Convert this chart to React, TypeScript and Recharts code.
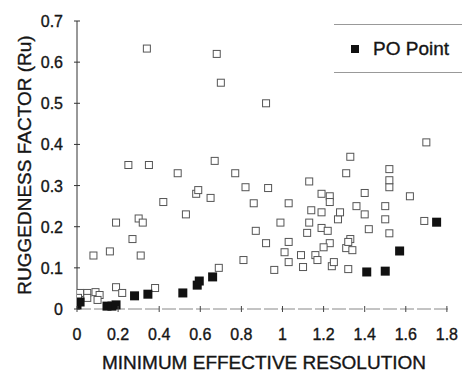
import { Label, Legend, Scatter, ScatterChart, XAxis, YAxis } from "recharts";

// open squares (all other points)
const openX = [
  0.34, 0.68, 0.7, 0.92, 0.25, 0.35, 0.49, 0.67, 0.77, 1.7, 1.33, 1.52, 1.13, 1.31,
  0.58, 0.42, 0.53, 0.19, 0.3, 0.32, 0.27, 0.08, 0.16, 0.31, 0.19, 0.22, 0.38, 0.015,
  0.05, 0.09, 0.11, 0.05, 0.1, 0.005, 1.19, 1.14, 1.13, 1.12, 1.19, 1.19, 0.99, 0.87,
  0.92, 1.03, 1.01, 1.09, 1.16, 1.17, 1.03, 1.1, 0.96, 0.81, 0.69, 0.82, 0.93, 0.86,
  1.03, 0.59, 0.65, 1.23, 1.4, 1.4, 1.27, 1.5, 1.5, 1.42, 1.52, 1.69, 1.62, 1.33,
  1.31, 1.32, 1.24, 1.23, 1.52, 1.36, 1.28, 1.22, 1.32, 1.23, 1.2, 1.34, 1.25, 1.52,
];
const openY = [
  0.633, 0.62, 0.55, 0.5, 0.35, 0.35, 0.33, 0.36, 0.33, 0.405, 0.37, 0.34, 0.31, 0.33,
  0.28, 0.26, 0.23, 0.21, 0.22, 0.21, 0.17, 0.13, 0.14, 0.13, 0.053, 0.039, 0.051, 0.039,
  0.039, 0.041, 0.034, 0.027, 0.022, 0.027, 0.28, 0.24, 0.21, 0.185, 0.235, 0.197, 0.21, 0.19,
  0.16, 0.163, 0.138, 0.131, 0.131, 0.119, 0.114, 0.102, 0.095, 0.119, 0.1, 0.296, 0.294, 0.257,
  0.257, 0.289, 0.27, 0.274, 0.282, 0.23, 0.218, 0.25, 0.218, 0.194, 0.184, 0.214, 0.274, 0.17,
  0.148, 0.097, 0.104, 0.26, 0.296, 0.25, 0.235, 0.19, 0.163, 0.16, 0.15, 0.143, 0.114, 0.313,
];

// PO points (filled)
const poX = [0.0, 0.015, 0.146, 0.17, 0.19, 0.28, 0.345, 0.515, 0.585, 0.595, 0.66, 1.41, 1.5, 1.57, 1.75];
const poY = [0.01, 0.017, 0.007, 0.007, 0.01, 0.032, 0.036, 0.039, 0.058, 0.068, 0.078, 0.09, 0.092, 0.141, 0.211];

const xTicks = [0, 0.2, 0.4, 0.6, 0.8, 1, 1.2, 1.4, 1.6, 1.8];
const yTicks = [0, 0.1, 0.2, 0.3, 0.4, 0.5, 0.6, 0.7];

const openData = openX.map((x, i) => ({ x, y: openY[i] }));
const poData = poX.map((x, i) => ({ x, y: poY[i] }));

const FONT = "'Liberation Sans', Arial, sans-serif";
const INK = "#151515";

function OpenSquare({ cx, cy }: { cx?: number; cy?: number }) {
  if (cx == null || cy == null) return null;
  return <rect x={cx - 3.5} y={cy - 3.5} width={7} height={7} fill="#fff" stroke="#555" strokeWidth={1} />;
}

function FilledSquare({ cx, cy }: { cx?: number; cy?: number }) {
  if (cx == null || cy == null) return null;
  return <rect x={cx - 4.5} y={cy - 4.5} width={9} height={9} fill="#111" />;
}

function YTick({ x, y, payload }: { x?: number; y?: number; payload?: { value: number } }) {
  if (x == null || y == null || !payload) return null;
  return (
    <g>
      <line x1={x - 3} x2={x + 3} y1={y} y2={y} stroke="#333" />
      <text
        x={x - 14}
        y={y + 6}
        textAnchor="end"
        fontSize={16}
        fill={INK}
        stroke={INK}
        strokeWidth={0.35}
        fontFamily={FONT}
      >
        {String(payload.value)}
      </text>
    </g>
  );
}

function XTick({ x, y, payload }: { x?: number; y?: number; payload?: { value: number } }) {
  if (x == null || y == null || !payload) return null;
  return (
    <g>
      <line x1={x} x2={x} y1={y - 3} y2={y + 3} stroke="#444" />
      <text
        x={x}
        y={y + 31}
        textAnchor="middle"
        fontSize={16}
        fill={INK}
        stroke={INK}
        strokeWidth={0.35}
        fontFamily={FONT}
      >
        {String(payload.value)}
      </text>
    </g>
  );
}

function YTitle(props: any) {
  const vb = props.viewBox || { x: 17, y: 21, width: 60, height: 288 };
  const cx = vb.x + 14;
  const cy = vb.y + vb.height / 2;
  return (
    <text
      x={cx}
      y={cy}
      transform={`rotate(-90, ${cx}, ${cy})`}
      textAnchor="middle"
      fontSize={19}
      fill={INK}
      stroke={INK}
      strokeWidth={0.35}
      fontFamily={FONT}
    >
      RUGGEDNESS FACTOR  (Ru)
    </text>
  );
}

function LegendBox({ payload }: { payload?: { value: string }[] }) {
  const items = (payload || []).filter((p) => p.value === "PO Point");
  return (
    <div
      style={{
        borderTop: "1px solid #999",
        borderBottom: "1px solid #999",
        height: 49,
        display: "flex",
        alignItems: "center",
        boxSizing: "border-box",
      }}
    >
      {items.map((p) => (
        <div key={p.value} style={{ display: "flex", alignItems: "center", marginLeft: 17 }}>
          <span style={{ width: 8, height: 8, background: "#111", display: "inline-block" }} />
          <span
            style={{
              marginLeft: 14,
              fontSize: 19,
              fontFamily: FONT,
              color: INK,
              WebkitTextStroke: "0.35px #151515",
            }}
          >
            {p.value}
          </span>
        </div>
      ))}
    </div>
  );
}

export default function App() {
  return (
    <div style={{ position: "absolute", left: 0, top: 0, width: 464, height: 373, background: "#fff" }}>
      <ScatterChart width={464} height={373} margin={{ top: 21, right: 13, bottom: 34, left: 17 }}>
        <XAxis
          type="number"
          dataKey="x"
          domain={[0, 1.82]}
          ticks={xTicks}
          allowDataOverflow
          height={30}
          tickSize={0}
          tickMargin={0}
          tick={<XTick />}
          axisLine={{ stroke: "#888", strokeDasharray: "14 3" }}
          tickLine={false}
        >
          <Label
            value="MINIMUM EFFECTIVE RESOLUTION"
            position="bottom"
            offset={17}
            fontSize={19}
            fill={INK}
            stroke={INK}
            strokeWidth={0.35}
            fontFamily={FONT}
          />
        </XAxis>
        <YAxis
          type="number"
          dataKey="y"
          domain={[0, 0.7]}
          ticks={yTicks}
          width={60}
          tickSize={0}
          tickMargin={0}
          tick={<YTick />}
          axisLine={{ stroke: "#333" }}
          tickLine={false}
        >
          <Label content={YTitle} />
        </YAxis>
        <Legend
          layout="horizontal"
          align="center"
          verticalAlign="middle"
          content={<LegendBox />}
          wrapperStyle={{ position: "absolute", top: 24, left: 334, width: 128, height: 50 }}
        />
        <Scatter name="Other" data={openData} shape={OpenSquare} legendType="none" isAnimationActive={false} />
        <Scatter name="PO Point" data={poData} shape={FilledSquare} legendType="square" isAnimationActive={false} />
      </ScatterChart>
    </div>
  );
}
